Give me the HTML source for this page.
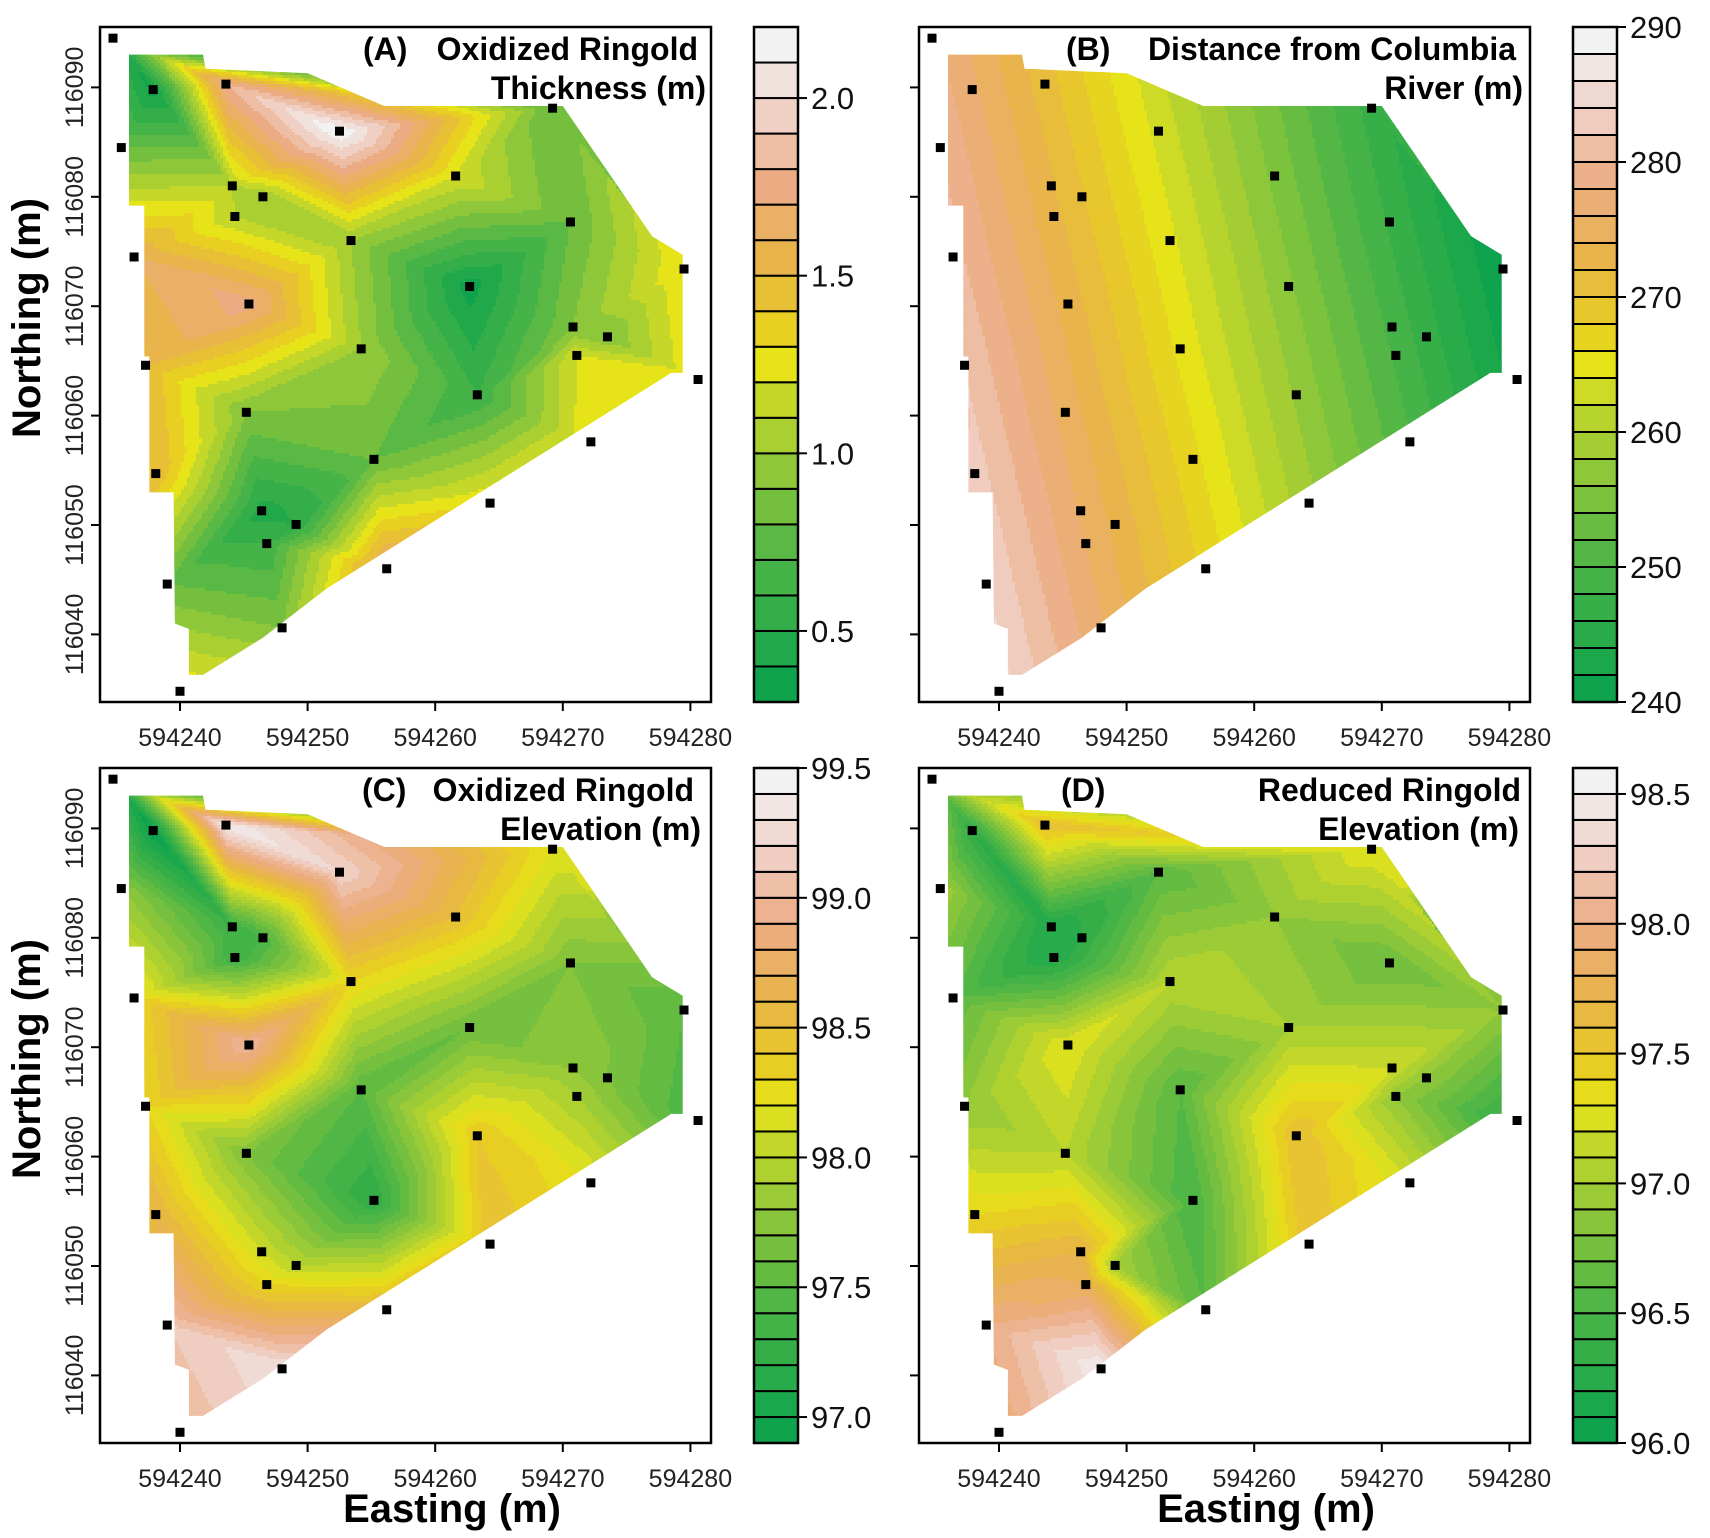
<!DOCTYPE html>
<html><head><meta charset="utf-8">
<style>
html,body{margin:0;padding:0;background:#fff;}
svg{display:block;font-family:"Liberation Sans",Arial,sans-serif;}
</style></head>
<body>
<svg id="fig" width="1710" height="1538" viewBox="0 0 1710 1538" xmlns="http://www.w3.org/2000/svg"></svg>
<script>
// ---- data: well locations ----
const wellE = [594234.75,594237.9,594243.6,594235.4,594252.5,594269.2,594261.6,594244.1,594246.5,594244.3,594253.4,594270.6,594236.4,594279.5,594262.7,594245.4,594270.8,594273.5,594254.2,594271.1,594237.3,594280.6,594263.3,594245.2,594272.2,594255.2,594238.1,594264.3,594246.4,594249.1,594246.8,594256.2,594239.0,594248.0,594240.0];
const wellN = [116094.5,116089.8,116090.3,116084.5,116086.0,116088.1,116081.9,116081.0,116080.0,116078.2,116076.0,116077.7,116074.5,116073.4,116071.8,116070.2,116068.1,116067.2,116066.1,116065.5,116064.6,116063.3,116061.9,116060.3,116057.6,116056.0,116054.7,116052.0,116051.3,116050.05,116048.3,116046.0,116044.6,116040.6,116034.8];
// ---- series values at each well ----
const thickness = [0.5,0.35,1.8,0.8,2.2,0.8,1.2,1.1,1.0,1.1,1.0,0.8,1.6,1.3,0.35,1.75,0.9,0.9,1.0,1.2,1.5,1.3,0.6,0.9,1.3,0.8,1.5,1.3,0.45,0.5,0.6,1.7,0.8,0.9,1.3];
const distance = [278.6,276.5,271.0,279.9,263.4,247.2,255.5,272.3,270.2,272.6,264.5,247.7,280.8,240.2,256.4,273.2,249.4,247.0,265.5,249.7,281.9,241.0,257.7,275.2,250.1,266.6,283.0,258.6,275.8,273.5,275.9,267.5,284.1,276.3,285.0];
const oxElev = [97.2,96.9,99.4,97.8,99.2,98.2,98.5,97.3,97.4,97.3,98.3,97.7,98.3,97.5,97.6,99.0,97.8,97.7,97.5,97.9,98.3,97.4,98.4,97.7,98.2,97.2,98.6,98.5,98.1,98.0,98.3,98.6,99.1,99.3,99.0];
const redElev = [96.8,96.3,97.6,97.0,96.6,97.3,96.9,96.2,96.3,96.2,97.1,96.7,96.6,96.9,97.0,97.3,97.2,96.9,96.6,96.9,96.9,96.3,97.6,97.1,97.2,96.5,97.4,97.6,97.7,97.0,97.8,96.6,98.0,98.5,97.9];
// ---- interpolation domain outline ----
const hullE = [594236.0,594241.8,594242.0,594250.0,594256.0,594270.0,594277.0,594279.4,594279.4,594278.5,594251.5,594246.5,594241.8,594240.7,594240.7,594239.6,594239.5,594237.6,594237.6,594237.2,594237.2,594236.0];
const hullN = [116093.0,116093.0,116091.7,116091.3,116088.3,116088.3,116076.4,116074.7,116063.9,116063.9,116044.2,116039.7,116036.3,116036.3,116040.5,116041.0,116053.0,116053.0,116065.4,116065.4,116079.2,116079.2];
// ---- axis ticks ----
const xTicks = [594240,594250,594260,594270,594280];
const yTicks = [116090,116080,116070,116060,116050,116040];
const ticksA = [0.5,1.0,1.5,2.0];
const labelsA = ["0.5","1.0","1.5","2.0"];
const ticksB = [240,250,260,270,280,290];
const labelsB = ["240","250","260","270","280","290"];
const ticksC = [97.0,97.5,98.0,98.5,99.0,99.5];
const labelsC = ["97.0","97.5","98.0","98.5","99.0","99.5"];
const ticksD = [96.0,96.5,97.0,97.5,98.0,98.5];
const labelsD = ["96.0","96.5","97.0","97.5","98.0","98.5"];

const NS = "http://www.w3.org/2000/svg";
const svg = document.getElementById('fig');
function mk(tag, attrs, parent){const e=document.createElementNS(NS,tag);for(const k in attrs)e.setAttribute(k,attrs[k]);(parent||svg).appendChild(e);return e;}

const stops=[[0,[14,163,76]],[0.2,[80,182,70]],[0.35,[150,201,55]],[0.45,[200,216,40]],[0.5,[230,228,25]],[0.56,[232,205,35]],[0.66,[232,180,72]],[0.78,[236,172,132]],[0.9,[240,212,204]],[1,[242,242,242]]];
function colorAt(t){t=Math.max(0,Math.min(1,t));for(let i=1;i<stops.length;i++){if(t<=stops[i][0]){const a=stops[i-1],b=stops[i];const f=(t-a[0])/(b[0]-a[0]);const c=a[1].map((v,j)=>Math.round(v+(b[1][j]-v)*f));return `rgb(${c[0]},${c[1]},${c[2]})`;}}return 'rgb(242,242,242)';}

// ---- Delaunay triangulation (Bowyer-Watson) ----
const P = wellE.map((e,i)=>[e-594250, wellN[i]-116065]);
function circ(a,b,c){const ax=a[0],ay=a[1],bx=b[0],by=b[1],cx=c[0],cy=c[1];const d=2*(ax*(by-cy)+bx*(cy-ay)+cx*(ay-by));const ux=((ax*ax+ay*ay)*(by-cy)+(bx*bx+by*by)*(cy-ay)+(cx*cx+cy*cy)*(ay-by))/d;const uy=((ax*ax+ay*ay)*(cx-bx)+(bx*bx+by*by)*(ax-cx)+(cx*cx+cy*cy)*(bx-ax))/d;return [ux,uy,(ax-ux)*(ax-ux)+(ay-uy)*(ay-uy)];}
const pts = P.concat([[-1000,-1000],[1000,-1000],[0,1000]]);
const nP=P.length;
let tris=[[nP,nP+1,nP+2]];
for(let i=0;i<nP;i++){const p=pts[i];const bad=[],keep=[];for(const t of tris){const c=circ(pts[t[0]],pts[t[1]],pts[t[2]]);((p[0]-c[0])**2+(p[1]-c[1])**2<c[2])?bad.push(t):keep.push(t);}
 const edges=[];for(const t of bad){for(const [a,b] of [[t[0],t[1]],[t[1],t[2]],[t[2],t[0]]]){const idx=edges.findIndex(e=>(e[0]===b&&e[1]===a)||(e[0]===a&&e[1]===b));if(idx>=0)edges.splice(idx,1);else edges.push([a,b]);}}
 tris=keep;for(const e of edges)tris.push([e[0],e[1],i]);}
tris=tris.filter(t=>t[0]<nP&&t[1]<nP&&t[2]<nP);
function bary(x,y){for(const t of tris){const a=P[t[0]],b=P[t[1]],c=P[t[2]];const d=(b[1]-c[1])*(a[0]-c[0])+(c[0]-b[0])*(a[1]-c[1]);const w1=((b[1]-c[1])*(x-c[0])+(c[0]-b[0])*(y-c[1]))/d;const w2=((c[1]-a[1])*(x-c[0])+(a[0]-c[0])*(y-c[1]))/d;const w3=1-w1-w2;if(w1>=-1e-9&&w2>=-1e-9&&w3>=-1e-9)return [t,[w1,w2,w3]];}return null;}
function interp(vals,x,y,b){if(b){const t=b[0],w=b[1];return vals[t[0]]*w[0]+vals[t[1]]*w[1]+vals[t[2]]*w[2];}let s=0,ws=0;for(let i=0;i<nP;i++){const d=(P[i][0]-x)**2+(P[i][1]-y)**2+1e-6;const w=1/(d*d);s+=w*vals[i];ws+=w;}return s/ws;}

// ---- panels ----
const panels=[
 {id:'a',left:100,top:27,vals:thickness,vmin:0.3,vmax:2.2,nb:19,ticks:ticksA,labels:labelsA,yLabels:true,t1:'Oxidized Ringold',t2:'Thickness (m)',tag:'(A)',tagX:363,t1R:698,t2R:706},
 {id:'b',left:919,top:27,vals:distance,vmin:240,vmax:290,nb:25,ticks:ticksB,labels:labelsB,yLabels:false,t1:'Distance from Columbia',t2:'River (m)',tag:'(B)',tagX:1066,t1R:1516,t2R:1523},
 {id:'c',left:100,top:768,vals:oxElev,vmin:96.9,vmax:99.5,nb:26,ticks:ticksC,labels:labelsC,yLabels:true,t1:'Oxidized Ringold',t2:'Elevation (m)',tag:'(C)',tagX:362,t1R:694,t2R:701},
 {id:'d',left:919,top:768,vals:redElev,vmin:96.0,vmax:98.6,nb:26,ticks:ticksD,labels:labelsD,yLabels:false,t1:'Reduced Ringold',t2:'Elevation (m)',tag:'(D)',tagX:1061,t1R:1521,t2R:1519}
];
const W=611,H=675,CS=3;
const cols=Math.ceil(W/CS),rows=Math.ceil(H/CS);
const cellB=[];
for(let r=0;r<rows;r++){const row=[];for(let c=0;c<cols;c++){const px=(c+0.5)*CS,py=(r+0.5)*CS;const E=594240+(px-80)/12.76,N=116090-(py-60.4)/10.94;const x=E-594250,y=N-116065;row.push([x,y,bary(x,y)]);}cellB.push(row);}

for(const p of panels){
 const g=mk('g',{});
 const xS=E=>p.left+80+(E-594240)*12.76, yS=N=>p.top+60.4+(116090-N)*10.94;
 const clip=mk('clipPath',{id:'clip-'+p.id},g);
 mk('polygon',{points:hullE.map((e,i)=>xS(e).toFixed(1)+','+yS(hullN[i]).toFixed(1)).join(' ')},clip);
 const field=mk('g',{'clip-path':'url(#clip-'+p.id+')'},g);
 
 
 for(let r=0;r<rows;r++){let start=0,band=-1;
  const bandOf=c=>{const cb=cellB[r][c];const v=interp(p.vals,cb[0],cb[1],cb[2]);return Math.max(0,Math.min(p.nb-1,Math.floor((v-p.vmin)/(p.vmax-p.vmin)*p.nb)));};
  for(let c=0;c<=cols;c++){const b=c<cols?bandOf(c):-2;if(b!==band){if(band>=0){const rc=mk('rect',{x:p.left+start*CS,y:p.top+r*CS,width:(c-start)*CS+0.6,height:CS+0.6,fill:colorAt(band/(p.nb-1))},field);}band=b;start=c;}}
 }
 for(let i=0;i<wellE.length;i++){const w=mk('rect',{x:xS(wellE[i])-4.5,y:yS(wellN[i])-4.5,width:9,height:9,fill:'#000'},g);}
 const box=mk('rect',{x:p.left,y:p.top,width:W,height:H,fill:'none',stroke:'#000','stroke-width':2.5},g);
 
 for(const t of xTicks){const x=xS(t);mk('line',{x1:x,x2:x,y1:p.top+H,y2:p.top+H+9,stroke:'#000','stroke-width':2},g);const tx=mk('text',{x:x,y:p.top+H+44,'text-anchor':'middle','font-size':25,fill:'#222'},g);tx.textContent=t;}
 for(const t of yTicks){const y=yS(t);mk('line',{x1:p.left,x2:p.left-9,y1:y,y2:y,stroke:'#000','stroke-width':2},g);if(p.yLabels){const tx=mk('text',{x:0,y:0,transform:`translate(83,${y}) rotate(-90)`,'text-anchor':'middle','font-size':25,fill:'#222'},g);tx.textContent=t;}}
 const tg=mk('text',{x:p.tagX,y:p.top+33,'font-size':32,'font-weight':'bold'},g);tg.textContent=p.tag;
 const t1=mk('text',{x:p.t1R,y:p.top+33,'font-size':32,'font-weight':'bold','text-anchor':'end'},g);t1.textContent=p.t1;
 const t2=mk('text',{x:p.t2R,y:p.top+72,'font-size':32,'font-weight':'bold','text-anchor':'end'},g);t2.textContent=p.t2;
 const cbx=p.left+654,cbw=44,cbt=p.top,cbh=H;
 const cb=mk('g',{},g);
 for(let i=0;i<p.nb;i++){const bh=cbh/p.nb;const r=mk('rect',{x:cbx,y:cbt+cbh-(i+1)*bh,width:cbw,height:bh,fill:colorAt(i/(p.nb-1)),stroke:'#000','stroke-width':2},cb);}
 mk('rect',{x:cbx,y:cbt,width:cbw,height:cbh,fill:'none',stroke:'#000','stroke-width':2.5},cb);
 p.ticks.forEach((v,i)=>{const y=cbt+cbh-(v-p.vmin)/(p.vmax-p.vmin)*cbh;mk('line',{x1:cbx+cbw,x2:cbx+cbw+9,y1:y,y2:y,stroke:'#000','stroke-width':2},cb);const tx=mk('text',{x:cbx+cbw+13,y:y+11,'font-size':31,fill:'#111'},cb);tx.textContent=p.labels[i];});
}
function axisTitle(txt,x,y,rot,name){const t=mk('text',{x:0,y:0,transform:`translate(${x},${y})`+(rot?' rotate(-90)':''),'text-anchor':'middle','font-size':40,'font-weight':'bold'});t.textContent=txt;}
axisTitle('Northing (m)',40,318,true,'y-axis-title-top');
axisTitle('Northing (m)',40,1059,true,'y-axis-title-bottom');
axisTitle('Easting (m)',452,1522,false,'x-axis-title-left');
axisTitle('Easting (m)',1266,1522,false,'x-axis-title-right');
</script>
</body></html>
